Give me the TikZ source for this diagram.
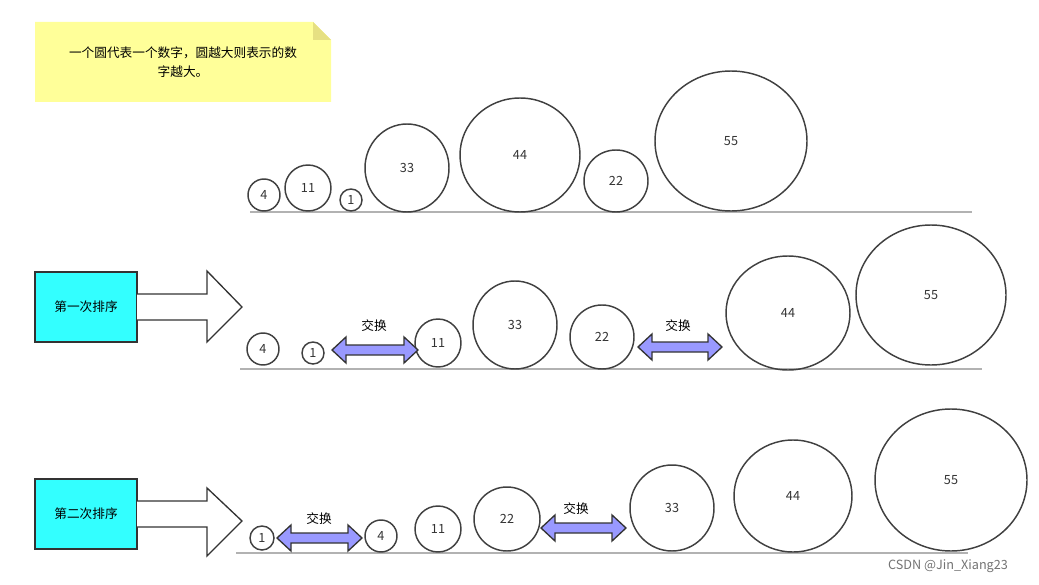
\documentclass[tikz,border=0pt]{standalone}
\usepackage{fontspec}
\setmainfont{Noto Sans CJK SC}
\usetikzlibrary{shapes.geometric}
\definecolor{boxcyan}{RGB}{51,255,255}
\definecolor{swapfill}{RGB}{153,153,255}
\definecolor{notey}{RGB}{255,255,153}
\definecolor{notefold}{RGB}{230,224,130}
\begin{document}
\begin{tikzpicture}[x=0.75pt,y=-0.75pt,
  num/.style={draw=black!75,line width=1.1pt,ellipse,inner sep=0pt,font=\fontsize{9.5}{10}\selectfont,text=black!80},
  base/.style={draw=black!30,line width=1pt},
  swap/.style={draw=black!80,fill=swapfill,line width=1pt},
  sortbox/.style={draw=black!80,fill=boxcyan,line width=1pt,font=\fontsize{9.5}{11}\selectfont},
  bigarrow/.style={fill=white,draw=black!80,line width=1pt},
  lbl/.style={font=\fontsize{9.5}{11}\selectfont}]
\useasboundingbox (0,0) rectangle (1039,585);
\newcommand\numc[6]{\node[num,minimum width=#3*1.5pt,minimum height=#4*1.5pt] (#6) at (#1,#2) {#5};}
\newcommand\dbl[3]{\draw[swap] (#1,#3) -- (#1+14,#3-13) -- (#1+14,#3-5) -- (#2-14,#3-5) -- (#2-14,#3-13) -- (#2,#3) -- (#2-14,#3+13) -- (#2-14,#3+5) -- (#1+14,#3+5) -- (#1+14,#3+13) -- cycle;}
% note
\fill[notey] (35,22) -- (313,22) -- (331,40) -- (331,102) -- (35,102) -- cycle;
\fill[notefold] (313,22) -- (331,40) -- (313,40) -- cycle;
\node[font=\fontsize{9.5}{14}\selectfont,align=center] (note) at (183,62) {一个圆代表一个数字，圆越大则表示的数\\字越大。};
% row 1
\draw[base] (250,212) -- (972,212);
\numc{264}{195}{16}{16}{4}{a4}
\numc{308}{188}{23}{23}{11}{a11}
\numc{351}{200}{11}{11}{1}{a1}
\numc{407}{168}{42}{44}{33}{a33}
\numc{520}{155}{60}{57}{44}{a44}
\numc{616}{181}{32}{31}{22}{a22}
\numc{731}{141}{76}{70}{55}{a55}
% row 2
\node[sortbox,minimum width=102*0.75pt,minimum height=70*0.75pt] (s1) at (86,307) {第一次排序};
\draw[bigarrow] (137,294) -- (207,294) -- (207,271) -- (242,307) -- (207,342) -- (207,320) -- (137,320);
\draw[base] (240,369) -- (982,369);
\numc{263}{349}{16}{16}{4}{b4}
\numc{313}{353}{11}{11}{1}{b1}
\numc{438}{343}{23}{24}{11}{b11}
\numc{515}{325}{42}{44}{33}{b33}
\numc{602}{337}{32}{32}{22}{b22}
\numc{788}{313}{62}{57}{44}{b44}
\numc{931}{295}{75}{70}{55}{b55}
\dbl{332}{418}{350}
\node[lbl] (x1) at (374,326) {交换};
\dbl{638}{722}{347}
\node[lbl] (x2) at (678,326) {交换};
% row 3
\node[sortbox,minimum width=102*0.75pt,minimum height=70*0.75pt] (s2) at (86,514) {第二次排序};
\draw[bigarrow] (137,501) -- (207,501) -- (207,488) -- (242,521) -- (207,556) -- (207,527) -- (137,527);
\draw[base] (236,553) -- (968,553);
\numc{262}{538}{12}{12}{1}{c1}
\numc{381}{536}{16}{16}{4}{c4}
\numc{438}{529}{23}{23}{11}{c11}
\numc{507}{519}{33}{32}{22}{c22}
\numc{672}{508}{42}{43}{33}{c33}
\numc{793}{496}{59}{56}{44}{c44}
\numc{951}{480}{76}{71}{55}{c55}
\dbl{277}{362}{538}
\node[lbl] (x3) at (319,519) {交换};
\dbl{541}{626}{528}
\node[lbl] (x4) at (576,509) {交换};
\node[font=\fontsize{9.5}{11}\selectfont,text=black!55] (wm) at (948,566) {CSDN @Jin\_Xiang23};
\end{tikzpicture}
\end{document}
